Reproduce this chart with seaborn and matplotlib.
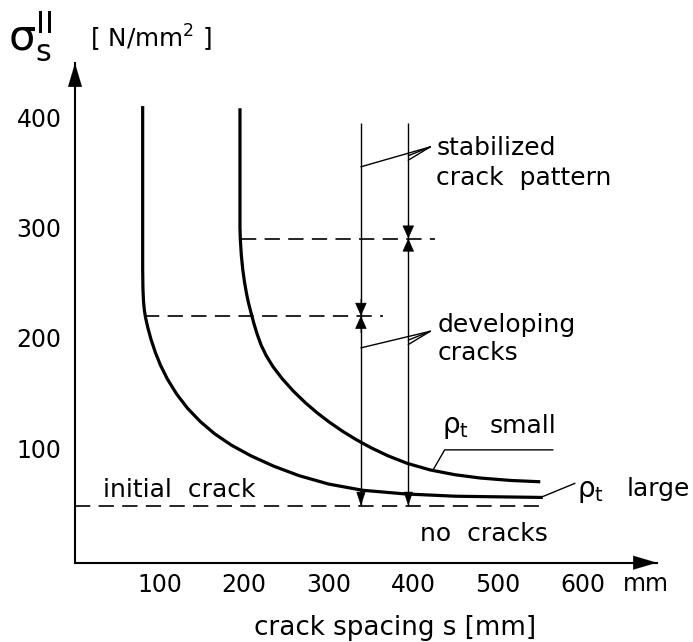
import matplotlib
matplotlib.use("Agg")
import numpy as np
import pandas as pd
import seaborn as sns
import matplotlib.pyplot as plt

# ---------------- data ----------------
s_large = [80, 80, 80.3, 81, 82, 83.5, 86, 90, 95, 101, 109, 120, 133, 148, 165, 185,
           208, 235, 265, 300, 340, 390, 450, 553]
sig_large = [410, 262, 245, 233, 225, 218, 209.5, 198.3, 186.8, 175.4, 163, 149.3, 136.3,
             124.3, 113.2, 102.8, 93.2, 83.8, 75.2, 67.6, 62, 58.7, 56.6, 55.5]

s_small = [195, 195, 195.4, 196.6, 198.3, 200.5, 202.8, 205, 208, 211.5, 215.5, 220, 226, 234,
           245, 258, 272, 286, 301, 317, 333, 350, 370, 393, 420, 449, 479, 515, 550]
sig_small = [408, 300, 290, 275, 262, 250, 240, 232, 223, 213, 203, 193.5, 184, 174,
             163, 151.9, 141.5, 132.3, 123.5, 115.1, 107.6, 100.5, 93.2, 86.3, 80.4, 76.1,
             73.1, 70.9, 69.7]

initial_crack = 48          # N/mm2, dashed line "initial crack"
crack_x = [338, 394]        # mm, the two vertical reference lines
crack_top = 395
level_large = 220           # dashed level where curve "large" starts
level_small = 290           # dashed level where curve "small" starts
level_large_end = 364
level_small_end = 425
initial_crack_end = 552

x_ticks = [100, 200, 300, 400, 500, 600]
y_ticks = [100, 200, 300, 400]

# ---------------- style ----------------
sns.set_style("white")
plt.rcParams['font.family'] = ['DejaVu Sans']
plt.rcParams['mathtext.fontset'] = 'dejavusans'
plt.rcParams['mathtext.default'] = 'regular'
plt.rcParams['text.color'] = 'black'
plt.rcParams['xtick.color'] = 'black'
plt.rcParams['ytick.color'] = 'black'
plt.rcParams['lines.scale_dashes'] = False

FS_TICK = 17
FS = 18
W, H = 693, 642
fig = plt.figure(figsize=(W / 100, H / 100), dpi=100)
ax = fig.add_axes([75 / W, 1 - 562.7 / H, (657 - 75) / W, (562.7 - 63) / H])

df = pd.concat([
    pd.DataFrame({"s": s_large, "sigma": sig_large, "rho": "large"}),
    pd.DataFrame({"s": s_small, "sigma": sig_small, "rho": "small"}),
], ignore_index=True)

sns.lineplot(data=df, x="s", y="sigma", hue="rho", units="rho",
             palette={"large": "black", "small": "black"},
             estimator=None, sort=False, lw=2.3, legend=False, ax=ax)
for ln in ax.get_lines():
    ln.set_solid_joinstyle('round')
    ln.set_solid_capstyle('butt')

ax.set_xlim(0, 688)
ax.set_ylim(-3.6, 449)

# dashed lines
dash = (11, 6)
ax.hlines(initial_crack, 0, initial_crack_end, colors='black', lw=1.2, linestyles=[(0, dash)])
ax.hlines(level_large, s_large[0] + 2, level_large_end, colors='black', lw=1.2, linestyles=[(0, dash)])
ax.hlines(level_small, s_small[0] + 1, level_small_end, colors='black', lw=1.2, linestyles=[(0, dash)])

# vertical reference lines
ax.vlines(crack_x, initial_crack, crack_top, colors='black', lw=1.0)

def tri(x, y, dy_pts, hl=0.85, hw=0.38):
    ax.annotate('', xy=(x, y), xytext=(0, dy_pts), textcoords='offset points',
                arrowprops=dict(arrowstyle=f'-|>,head_length={hl},head_width={hw}',
                                mutation_scale=10, color='black', lw=0.5,
                                shrinkA=0, shrinkB=0))

for xc, lev in zip(crack_x, [level_large, level_small]):
    tri(xc, lev, 12)
    tri(xc, lev, -12)

# arrows from large curve down to the initial crack line
for xc in crack_x:
    y_top = np.interp(xc, s_large[2:], sig_large[2:])
    ax.annotate('', xy=(xc, initial_crack), xytext=(xc, y_top),
                arrowprops=dict(arrowstyle='-|>,head_length=0.9,head_width=0.3',
                                mutation_scale=10, color='black', lw=0.5,
                                shrinkA=0, shrinkB=0))

# leader lines
lk = dict(color='black', lw=1.0)
ax.plot([420, crack_x[0]], [373, 355], **lk)
ax.plot([420, crack_x[1]], [373, 365], **lk)
ax.plot([420, crack_x[1]], [373, 361], **lk)
ax.plot([420, crack_x[0]], [206, 191], **lk)
ax.plot([420, crack_x[1]], [206, 198], **lk)
ax.plot([420, crack_x[1]], [206, 194], **lk)
ax.plot([565, 437, 423], [98.6, 98.6, 80], **lk)
ax.plot([553, 591], [56.3, 68.3], **lk)

# texts
ax.text(427, 366, "stabilized", fontsize=FS, va='baseline', ha='left')
ax.text(427, 338.5, "crack  pattern", fontsize=FS, va='baseline', ha='left')
ax.text(429, 205.5, "developing", fontsize=FS, va='baseline', ha='left')
ax.text(429, 180, "cracks", fontsize=FS, va='baseline', ha='left')
ax.text(434, 114, r"$\rho_t$", fontsize=FS + 2, va='baseline', ha='left')
ax.text(490, 114, "small", fontsize=FS, va='baseline', ha='left')
ax.text(594, 56, r"$\rho_t$", fontsize=FS + 2, va='baseline', ha='left', clip_on=False)
ax.text(652, 57, "large", fontsize=FS, va='baseline', ha='left', clip_on=False)
ax.text(33, 56, "initial  crack", fontsize=FS, va='baseline', ha='left')
ax.text(408, 16, "no  cracks", fontsize=FS, va='baseline', ha='left')

# axes styling
sns.despine(ax=ax, top=True, right=True)
for sp in ['left', 'bottom']:
    ax.spines[sp].set_linewidth(1.5)
    ax.spines[sp].set_color('black')
ax.set_xticks(x_ticks)
ax.set_yticks(y_ticks)
ax.tick_params(axis='both', direction='out', length=3.6, width=1.2, labelsize=FS_TICK)
ax.tick_params(axis='y', pad=6)
ax.tick_params(axis='x', pad=4)
ax.set_xlabel("")
ax.set_ylabel("")

# axis arrow heads
ax.annotate('', xy=(1, 0), xycoords='axes fraction', xytext=(0.9, 0),
            arrowprops=dict(arrowstyle='-|>,head_length=1.7,head_width=0.5', mutation_scale=10,
                            color='black', lw=0.1, shrinkA=0, shrinkB=0))
ax.annotate('', xy=(0, 1), xycoords='axes fraction', xytext=(0, 0.9),
            arrowprops=dict(arrowstyle='-|>,head_length=1.7,head_width=0.5', mutation_scale=10,
                            color='black', lw=0.1, shrinkA=0, shrinkB=0))

ax.annotate("mm", xy=(648, 0), xycoords=('data', 'axes fraction'), xytext=(0, -6.5),
            textcoords='offset points', fontsize=FS_TICK, ha='left', va='top')

fig.text(395 / W, 1 - 635 / H, "crack spacing s [mm]", fontsize=18.8, ha='center', va='baseline')
fig.text(8 / W, 1 - 50 / H, r"$\sigma_s^{II}$", fontsize=31, ha='left', va='baseline')
fig.text(90 / W, 1 - 48 / H, r"[ N/mm$^2$ ]", fontsize=17.8, ha='left', va='baseline')

fig.savefig("out.png", dpi=100)
